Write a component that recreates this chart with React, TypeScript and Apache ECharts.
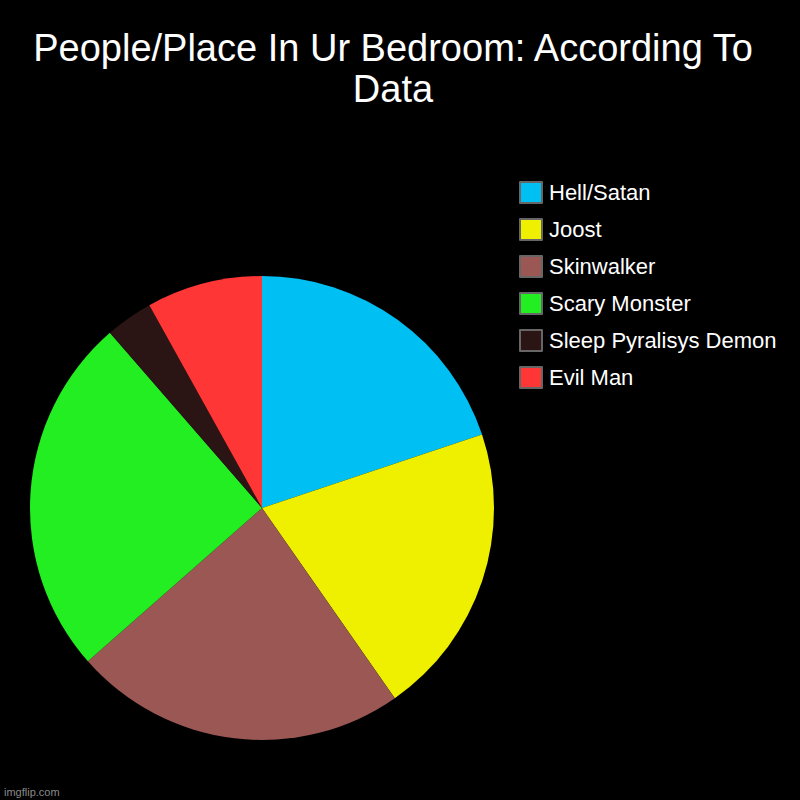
import React, { useEffect, useRef } from "react";
import * as echarts from "echarts";

const categories = ["Hell/Satan", "Joost", "Skinwalker", "Scary Monster", "Sleep Pyralisys Demon", "Evil Man"];
const values = [19.87, 20.43, 23.21, 25.11, 3.31, 8.07];
const colors = ["#00BFF3", "#EEF000", "#9A5754", "#22EE22", "#2A1414", "#FF3636"];
const titleText = "People/Place In Ur Bedroom: According To\nData";
const watermark = "imgflip.com";

export default function App() {
  const ref = useRef<HTMLDivElement>(null);
  useEffect(() => {
    if (!ref.current) return;
    const chart = echarts.init(ref.current, null, { renderer: "svg" });
    const font = "'Liberation Sans', Arial, sans-serif";
    chart.setOption({
      animation: false,
      backgroundColor: "#000000",
      title: {
        text: titleText,
        left: 393,
        top: 27,
        padding: 0,
        textAlign: "center",
        textStyle: {
          color: "#ffffff",
          fontSize: 38,
          lineHeight: 41,
          fontWeight: "normal",
          fontFamily: font,
        },
      },
      legend: {
        data: categories,
        orient: "vertical",
        left: 519,
        top: 181,
        padding: 0,
        itemWidth: 22,
        itemHeight: 21,
        itemGap: 14,
        icon: "rect",
        itemStyle: { borderColor: "#666666", borderWidth: 2 },
        textStyle: {
          color: "#ffffff",
          fontSize: 22,
          lineHeight: 21,
          fontFamily: font,
          padding: [0, 0, 0, 2],
        },
        selectedMode: false,
      },
      graphic: [
        {
          type: "text",
          left: 4,
          top: 786,
          style: { text: watermark, fill: "#8a8a8a", font: `11px ${font}` },
        },
      ],
      series: [
        {
          type: "pie",
          center: [262, 508],
          radius: 232,
          startAngle: 90,
          clockwise: true,
          label: { show: false },
          labelLine: { show: false },
          emphasis: { disabled: true },
          itemStyle: { borderWidth: 0 },
          data: categories.map((name, i) => ({
            name,
            value: values[i],
            itemStyle: { color: colors[i] },
          })),
        },
      ],
    });
    return () => chart.dispose();
  }, []);
  return (
    <div
      ref={ref}
      style={{ position: "absolute", left: 0, top: 0, width: 800, height: 800, background: "#000" }}
    />
  );
}
